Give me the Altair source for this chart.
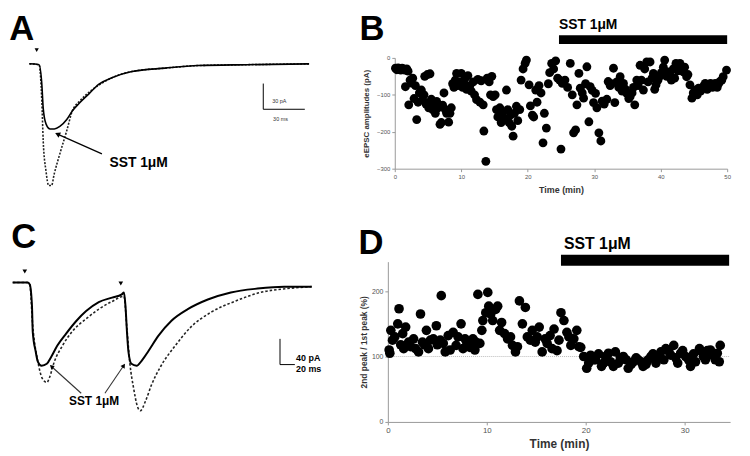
import altair as alt
import pandas as pd

FONT = "Liberation Sans"

# ---------------- Panel A : eEPSC traces (ms after stimulus, pA) ----------------
a_sst_t = [-6, 1, 3, 4, 6, 9, 12, 16, 21, 25, 30, 37, 44, 54, 68, 92, 116, 151, 196]
a_sst_i = [0, -1, -24, -52, -70, -76, -76, -73, -65, -55, -46, -35, -24, -16, -9, -5, -2, -1, 0]
a_ctl_t = [-6, 1, 3, 4, 6, 8, 10, 12, 16, 21, 25, 30, 35, 44, 54, 68, 92, 116, 151, 196]
a_ctl_i = [0, -1, -44, -90, -125, -142, -142, -128, -105, -78, -55, -44, -36, -25, -16, -9, -5, -2, -1, 0]
a_bar_pa, a_bar_ms = 30, 30

# ---------------- Panel B : eEPSC amplitude vs time ----------------
b_time = [0.1, 0.3, 0.5, 0.7, 0.9, 1.1, 1.3, 1.5, 1.6, 1.8, 2.0, 2.1, 2.3, 2.5, 2.7, 2.9, 3.1, 3.3, 3.5, 3.7,
          4.0, 4.2, 4.4, 4.5, 4.7, 4.9, 5.1, 5.3, 5.5, 5.7, 5.9, 6.1, 6.3, 6.5, 6.8, 7.0, 7.2, 7.4, 7.6, 7.8,
          8.1, 8.3, 8.5, 8.7, 8.9, 9.1, 9.3, 9.5, 9.7, 10.0, 10.2, 10.4, 10.6, 10.8, 11.0, 11.3, 11.5, 11.8,
          12.0, 12.3, 12.5, 12.8, 13.0, 13.3, 13.4, 13.7, 13.9, 14.2, 14.4, 14.6, 14.8, 15.1, 15.3, 15.5,
          15.8, 16.0, 16.2, 16.5, 16.8, 17.0, 17.2, 17.4, 17.6, 17.8, 18.0, 18.3, 18.5, 18.8, 19.0, 19.3,
          19.6, 19.8, 20.2, 20.4, 20.7, 20.9, 21.2, 21.4, 21.7, 22.0, 22.3, 22.5, 22.8, 23.1, 23.3, 23.6,
          23.9, 24.2, 24.5, 24.8, 25.0,
          25.2, 25.6, 26.0, 26.4, 26.7, 26.9, 27.2, 27.4, 27.7, 27.9, 28.2, 28.4, 28.7, 28.9, 29.2, 29.4,
          29.7, 29.9, 30.2, 30.4, 30.7, 31.0, 31.2, 31.5, 31.9, 32.1, 32.4, 32.6, 32.9, 33.1, 33.4, 33.7,
          33.9, 34.2, 34.4, 34.7, 34.9, 35.2, 35.4, 35.7, 35.9, 36.1, 36.4, 36.6, 36.9, 37.1, 37.4, 37.6,
          37.9, 38.1, 38.4, 38.7, 38.9, 39.1, 39.3, 39.6, 39.8, 40.1, 40.4, 40.6, 40.9, 41.1, 41.4, 41.6,
          41.9, 42.1, 42.3, 42.6, 42.9, 43.1, 43.4, 43.6, 43.9, 44.1, 44.4, 44.7, 44.9, 45.2, 45.5, 45.7,
          46.0, 46.2, 46.5, 46.7, 47.0, 47.2, 47.5, 47.8, 48.0, 48.2, 48.5, 48.7, 48.9, 49.2, 49.4, 49.9]
b_amp = [-28, -32, -27, -30, -33, -28, -30, -33, -78, -30, -36, -127, -60, -68, -55, -110, -75, -167, -120, -95,
         -87, -113, -100, -50, -125, -45, -135, -43, -112, -140, -125, -150, -118, -135, -180, -175, -128, -95, -140, -150,
         -174, -150, -135, -70, -80, -60, -42, -75, -65, -42, -80, -70, -55, -85, -48, -75, -90, -65,
         -100, -113, -58, -120, -62, -127, -198, -280, -55, -65, -100, -50, -105, -100, -140, -160,
         -135, -175, -150, -165, -87, -140, -175, -155, -185, -212, -150, -131, -170, -140, -60, -30,
         -15, -6, -73, -130, -155, -160, -87, -120, -75, -95, -230, -150, -190, -70, -40, -15,
         -30, -8, -55, -60, -247,
         -69, -60, -80, -15, -100, -203, -195, -127, -42, -82, -95, -109, -70, -24, -173, -78,
         -88, -121, -96, -135, -203, -225, -117, -125, -112, -64, -75, -70, -28, -121, -65, -80,
         -51, -90, -69, -85, -96, -110, -105, -95, -80, -127, -60, -75, -20, -60, -87, -30,
         -11, -65, -11, -55, -42, -85, -73, -60, -51, -40, -25, -6, -50, -38, -45, -60,
         -30, -55, -15, -35, -15, -30, -38, -25, -51, -45, -73, -109, -95, -87, -100, -82,
         -90, -82, -75, -69, -85, -80, -69, -80, -75, -69, -80, -70, -64, -60, -51, -33]
sst_b = [24.7, 50]

# ---------------- Panel C : paired-pulse traces (ms, pA) ----------------
c_sst_t = [-23, -3, 0, 3, 4, 8, 11, 16, 23, 29, 37, 49, 63, 76, 93, 111, 124, 127, 129, 131, 133, 137,
           144, 151, 160, 173, 191, 213, 240, 271, 307, 343, 380]
c_sst_i = [1.5, 1.5, -1.5, -35, -75, -106, -122, -128, -125, -114, -97, -78, -58, -43, -29, -22, -17, -14,
           -35, -75, -106, -125, -128, -120, -105, -82, -58, -40, -25, -14, -8, -5, -5]
c_ctl_t = [-23, -3, 0, 4, 11, 17, 23, 27, 33, 44, 57, 76, 93, 111, 127, 131, 135, 140, 145, 149, 156,
           164, 177, 196, 217, 244, 276, 311, 347, 380]
c_ctl_i = [1.5, 1.5, -1.5, -66, -122, -148, -154, -145, -122, -97, -75, -55, -40, -28, -20, -71, -125,
           -163, -191, -198, -183, -158, -128, -97, -68, -45, -28, -14, -8, -5]
c_bar_pa, c_bar_ms = 40, 20
c_stims = [-6.7, 122.7]

# ---------------- Panel D : paired-pulse ratio vs time ----------------
d_time = [0.13, 0.3, 0.47, 1.0, 1.13, 1.5, 1.6, 2.1, 2.6, 3.1, 3.3, 3.5, 3.9, 4.1, 4.6, 4.9, 5.3, 5.4, 5.8, 6.1,
          6.6, 6.9, 7.4, 7.8, 8.3, 8.6, 8.9, 9.1, 9.5, 9.6, 9.9, 10.1, 10.2, 10.6, 10.9, 11.1, 11.5, 11.8, 12.1,
          12.6, 12.9, 13.3, 13.6, 13.9, 14.1, 14.6, 14.9, 15.3, 15.6, 15.9, 16.4, 16.8, 17.1, 17.5, 17.8, 18.1,
          18.5, 18.8, 19.1, 19.5, 19.8, 20.1, 20.5, 20.8, 21.3, 21.6, 22.0, 22.5, 23.0, 23.3, 23.8, 24.3, 24.8,
          25.3, 25.8, 26.3, 26.8, 27.1, 27.6, 28.1, 28.6, 28.9, 29.3, 29.8, 30.1, 30.6, 30.9, 31.5, 31.9, 32.3,
          32.8, 33.1, 33.5, 33.6,
          0.2, 0.7, 1.3, 1.8, 2.3, 2.8, 3.7, 4.3, 5.0, 5.6, 6.3, 7.1, 7.6, 8.0, 8.8, 9.3, 10.4, 11.3, 12.4,
          13.1, 14.4, 15.1, 16.1, 16.6, 17.3, 18.3, 19.3, 20.3, 21.0, 21.8, 22.3, 22.8, 23.5, 24.1, 24.6, 25.1,
          25.6, 26.1, 26.6, 27.3, 27.9, 28.4, 29.1, 29.6, 30.4, 31.1, 31.7, 32.1, 32.6, 33.3]
d_ratio = [110, 140, 125, 150, 173, 135, 112, 122, 127, 107, 165, 122, 140, 112, 127, 147, 125, 193, 107, 132,
           137, 117, 150, 127, 114, 127, 122, 195, 140, 155, 167, 198, 177, 155, 172, 177, 152, 135, 127,
           117, 107, 185, 150, 175, 130, 140, 122, 145, 107, 127, 132, 142, 109, 167, 155, 137,
           117, 127, 140, 114, 100, 82, 102, 95, 104, 85, 100, 92, 107, 90, 100, 82, 92,
           95, 85, 95, 104, 90, 107, 112, 102, 117, 90, 109, 100, 85, 104, 112, 100, 109,
           102, 95, 92, 117,
           105, 130, 118, 145, 115, 112, 118, 125, 118, 120, 110, 130, 112, 120, 110, 120, 165, 140, 130,
           115, 125, 130, 120, 112, 125, 130, 115, 90, 95, 90, 105, 85, 98, 95, 88, 98,
           92, 88, 100, 98, 95, 108, 98, 105, 95, 92, 108, 95, 110, 105]
sst_d = [17.5, 34.5]

label_sst = "SST 1\u03bcM"

# ---------------- scales (data -> pixel positions of each panel) ----------------
def sc(domain, rng):
    return alt.Scale(domain=domain, range=rng, nice=False, zero=False)

sxA = sc([0, 100], [30, 170])
syA = sc([-150, 0], [184, 54])
sxB = sc([0, 50], [391, 727])
syB = sc([-300, 0], [160, 48])
sxC = sc([0, 100], [22, 97])
syC = sc([-200, 0], [406, 276])
D_XMAX = 34.6
sxD = sc([0, D_XMAX], [384, 730])
syD = sc([0, 245], [416, 254])

one = pd.DataFrame({"k": [0]})


def X(v, s):
    return alt.XDatum(v, scale=s, axis=None)


def Y(v, s):
    return alt.YDatum(v, scale=s, axis=None)


def lines(sx, sy, t, i, color, sw, dash=None):
    kw = dict(color=color, strokeWidth=sw, interpolate="monotone")
    if dash:
        kw["strokeDash"] = dash
    return alt.Chart(pd.DataFrame({"t": t, "i": i})).mark_line(**kw).encode(
        x=alt.X("t:Q", scale=sx, axis=None), y=alt.Y("i:Q", scale=sy, axis=None))


def rule(sx, sy, x, y, x2, y2, sw=1.2, color="black"):
    return alt.Chart(one).mark_rule(color=color, strokeWidth=sw).encode(
        x=X(x, sx), y=Y(y, sy), x2=alt.X2Datum(x2), y2=alt.Y2Datum(y2))


def txt(sx, sy, s, x, y, size, weight="bold", align="left", color="black"):
    return alt.Chart(one).mark_text(text=s, fontSize=size, fontWeight=weight, align=align,
                                    baseline="middle", color=color, font=FONT).encode(
        x=X(x, sx), y=Y(y, sy))


def head(sx, sy, x, y, shape, angle, size=30):
    return alt.Chart(one).mark_point(shape=shape, angle=angle, filled=True, size=size,
                                     color="black", opacity=1).encode(x=X(x, sx), y=Y(y, sy))


layers = []

# ---- Panel A
layers += [
    lines(sxA, syA, a_ctl_t, a_ctl_i, "#222", 1.6, [2, 1.5]),
    lines(sxA, syA, a_sst_t, a_sst_i, "black", 1.6),
    rule(sxA, syA, 162.9, -53, 162.9, -53 + a_bar_pa, 1),
    rule(sxA, syA, 162.9, -53, 162.9 + a_bar_ms, -53, 1),
    txt(sxA, syA, f"{a_bar_pa} pA", 169.3, -43.8, 5.5, "normal", color="#333"),
    txt(sxA, syA, f"{a_bar_ms} ms", 170, -64.6, 5.5, "normal", color="#333"),
    txt(sxA, syA, label_sst, 72.9, -115.3, 14, align="center"),
    rule(sxA, syA, 46.4, -105, 14.3, -82, 1.3),
    head(sxA, syA, 14.3, -82, "triangle-left", 24, 35),
    head(sxA, syA, -0.7, 16, "triangle-down", 0, 18),
]

# ---- Panel B
dfB = pd.DataFrame({"t": b_time, "a": b_amp})
axBx = alt.Axis(orient="bottom", offset=-288, values=[0, 10, 20, 30, 40, 50], format="d", grid=False,
                labelFontSize=6, labelColor="#555", labelFlush=False, labelPadding=2,
                domainColor="#999", tickColor="#999", tickSize=3,
                title="Time (min)", titleFontSize=9, titleFontWeight="bold", titleColor="#333",
                titlePadding=6, minExtent=0)
axBy = alt.Axis(orient="left", offset=-391, values=[0, -100, -200, -300], format="d", grid=False,
                labelFontSize=6, labelColor="#555", labelFlush=False, labelPadding=2,
                domainColor="#999", tickColor="#999", tickSize=3,
                title="eEPSC amplitudes (pA)", titleFontSize=8, titleFontWeight="bold", titleColor="#333",
                titlePadding=6, minExtent=0)
layers += [
    alt.Chart(dfB).mark_circle(size=80, color="black", opacity=1).encode(
        x=alt.X("t:Q", scale=sxB, axis=axBx), y=alt.Y("a:Q", scale=syB, axis=axBy)),
    alt.Chart(pd.DataFrame({"s": [sst_b[0]], "e": [sst_b[1]]})).mark_rect(color="black").encode(
        x=alt.X("s:Q", scale=sxB, axis=None), x2="e:Q", y=alt.value(25), y2=alt.value(34)),
    alt.Chart(one).mark_text(text=label_sst, fontSize=14, fontWeight="bold", align="left",
                             baseline="middle", font=FONT).encode(x=X(sst_b[0], sxB), y=alt.value(15)),
]

# ---- Panel C
layers += [
    lines(sxC, syC, c_ctl_t, c_ctl_i, "#222", 1.6, [2.5, 2]),
    lines(sxC, syC, c_sst_t, c_sst_i, "black", 2),
    rule(sxC, syC, 337.3, -126.2, 337.3, -126.2 + c_bar_pa, 1),
    rule(sxC, syC, 337.3, -126.2, 337.3 + c_bar_ms, -126.2, 1),
    txt(sxC, syC, f"{c_bar_pa} pA", 359, -115.4, 9),
    txt(sxC, syC, f"{c_bar_ms} ms", 359, -133.8, 9),
    txt(sxC, syC, label_sst, 86.7, -183, 12, align="center"),
    rule(sxC, syC, 69.3, -170.8, 29.3, -129.2, 1.1, "#333"),
    rule(sxC, syC, 101.3, -170.8, 126.7, -127.7, 1.1, "#333"),
    head(sxC, syC, 29.3, -129.2, "triangle-left", 42, 25),
    head(sxC, syC, 126.7, -127.7, "triangle-right", 304, 25),
    alt.Chart(pd.DataFrame({"t": c_stims, "i": [18.5, 0]})).mark_point(
        shape="triangle-down", filled=True, size=22, color="black", opacity=1).encode(
        x=alt.X("t:Q", scale=sxC, axis=None), y=alt.Y("i:Q", scale=syC, axis=None)),
]

# ---- Panel D
dfD = pd.DataFrame({"t": d_time, "r": d_ratio})
axDx = alt.Axis(orient="bottom", offset=-32, values=[0, 10, 20, 30], format="d", grid=False,
                labelFontSize=8, labelColor="#555", labelFlush=False, labelPadding=2,
                domainColor="#999", tickColor="#999", tickSize=3,
                title="Time (min)", titleFontSize=12, titleFontWeight="bold", titleColor="#333",
                titlePadding=4, minExtent=0)
axDy = alt.Axis(orient="left", offset=-384, values=[0, 100, 200], format="d", grid=False,
                labelFontSize=7, labelColor="#555", labelFlush=False, labelPadding=2,
                domainColor="#999", tickColor="#999", tickSize=3,
                title="2nd peak / 1st peak (%)", titleFontSize=8.5, titleFontWeight="bold",
                titleColor="#333", titlePadding=3, minExtent=0)
layers += [
    alt.Chart(one).mark_rule(color="#bbb", strokeWidth=1, strokeDash=[1, 1]).encode(
        x=X(0, sxD), x2=alt.X2Datum(D_XMAX), y=Y(100, syD)),
    alt.Chart(dfD).mark_circle(size=95, color="black", opacity=1).encode(
        x=alt.X("t:Q", scale=sxD, axis=axDx), y=alt.Y("r:Q", scale=syD, axis=axDy)),
    alt.Chart(pd.DataFrame({"s": [sst_d[0]], "e": [sst_d[1]]})).mark_rect(color="black").encode(
        x=alt.X("s:Q", scale=sxD, axis=None), x2="e:Q", y=alt.value(247), y2=alt.value(258)),
    alt.Chart(one).mark_text(text=label_sst, fontSize=16, fontWeight="bold", align="left",
                             baseline="middle", font=FONT).encode(x=X(17.8, sxD), y=alt.value(236)),
]

# ---- Panel letters
letters = ["A", "B", "C", "D"]
letter_pos = [(14, 30), (368, 30), (16, 240), (367, 246)]
layers += [
    alt.Chart(one).mark_text(text=l, fontSize=35, fontWeight="bold", align="center",
                             baseline="alphabetic", font=FONT).encode(x=alt.value(p[0]), y=alt.value(p[1]))
    for l, p in zip(letters, letter_pos)
]

chart = alt.layer(*layers).resolve_scale(
    x="independent", y="independent"
).properties(
    width=742, height=448, padding=0, autosize=alt.AutoSizeParams(type="none")
).configure(font=FONT).configure_view(strokeWidth=0)

chart.save("out.html", embed_options={"renderer": "svg", "actions": False})
